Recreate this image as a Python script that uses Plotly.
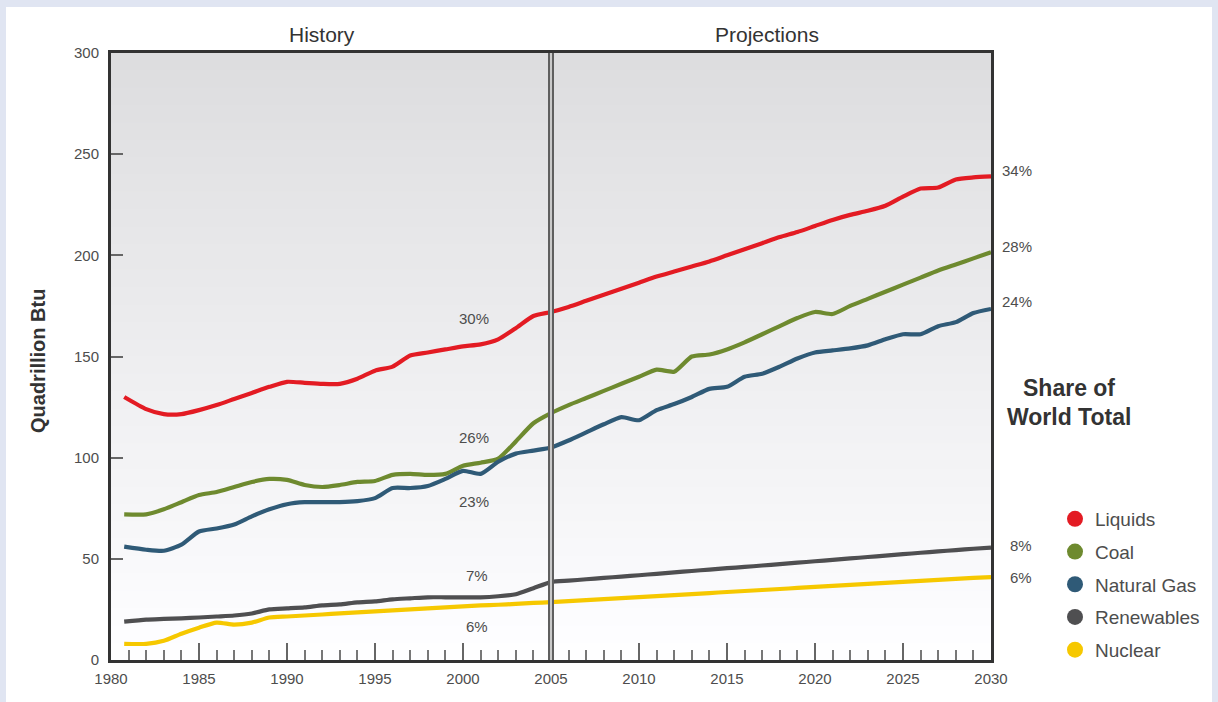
import plotly.graph_objects as go

# ---------------- data ----------------
years = [1980.75, 1982, 1983, 1984, 1985, 1986, 1987, 1988, 1989, 1990,
         1991, 1992, 1993, 1994, 1995, 1996, 1997, 1998, 1999, 2000,
         2001, 2002, 2003, 2004, 2005, 2006, 2007, 2008, 2009, 2010,
         2011, 2012, 2013, 2014, 2015, 2016, 2017, 2018, 2019, 2020,
         2021, 2022, 2023, 2024, 2025, 2026, 2027, 2028, 2029, 2030]

liquids = [130, 124, 121.5, 121.5, 123.5, 126, 129, 132, 135, 137.5,
           137, 136.5, 136.5, 139, 143, 145, 150.5, 152, 153.5, 155,
           156, 158.5, 164, 170, 172, 174.5, 177.5, 180.5, 183.5, 186.5,
           189.5, 192, 194.5, 197, 200, 203, 206, 209, 211.5, 214.5,
           217.5, 220, 222, 224.5, 229, 233, 233.5, 237.5, 238.5, 239]

coal = [72, 72, 74.5, 78, 81.5, 83, 85.5, 88, 89.5, 89,
        86.5, 85.5, 86.5, 88, 88.5, 91.5, 92, 91.5, 92, 96,
        97.5, 99.5, 108, 117, 122, 126, 129.5, 133, 136.5, 140,
        143.5, 142.5, 150, 151, 153.5, 157, 161, 165, 169, 172,
        171, 175, 178.5, 182, 185.5, 189, 192.5, 195.5, 198.5, 201.5]

natural_gas = [56, 54.5, 54, 57, 63.5, 65, 67, 71, 74.5, 77,
               78, 78, 78, 78.5, 80, 85, 85, 86, 89.5, 93.5,
               92, 98, 102, 103.5, 105, 108.5, 112.5, 116.5, 120, 118.5,
               123.5, 126.5, 130, 134, 135, 140, 141.5, 145, 149, 152,
               153, 154, 155.5, 158.5, 161, 161, 165, 167, 171.5, 173.5]

renewables = [19, 20, 20.3, 20.6, 21, 21.5, 22, 23, 25, 25.5,
              26, 27, 27.5, 28.5, 29, 30, 30.5, 31, 31, 31,
              31, 31.5, 32.5, 35.5, 38.5, 39.2, 39.9, 40.6, 41.2, 41.9,
              42.6, 43.3, 44, 44.7, 45.4, 46, 46.7, 47.4, 48.1, 48.8,
              49.5, 50.2, 50.9, 51.6, 52.3, 53, 53.7, 54.3, 55, 55.5]

nuclear = [8, 8, 9.5, 13, 16, 18.5, 17.5, 18.5, 21, 21.5,
           22, 22.5, 23, 23.5, 24, 24.5, 25, 25.5, 26, 26.5,
           27, 27.3, 27.7, 28.2, 28.6, 29.1, 29.6, 30.1, 30.6, 31.1,
           31.6, 32.1, 32.6, 33.1, 33.6, 34.1, 34.6, 35.1, 35.6, 36.1,
           36.6, 37.1, 37.6, 38.1, 38.6, 39.1, 39.6, 40.1, 40.6, 41]

series_names = ["Liquids", "Coal", "Natural Gas", "Renewables", "Nuclear"]
series_values = [liquids, coal, natural_gas, renewables, nuclear]
series_colors = ["#e31b23", "#6e8a2f", "#2f5a77", "#4f4f51", "#f6c800"]

end_shares = ["34%", "28%", "24%", "8%", "6%"]
end_share_y = [242, 204.5, 177, 56.5, 41]
mid_shares = ["30%", "26%", "23%", "7%", "6%"]
mid_share_y = [169, 110, 78.5, 42, 16.5]
mid_share_x = [2000.6, 2000.6, 2000.6, 2000.8, 2000.8]

x_ticks = [1980, 1985, 1990, 1995, 2000, 2005, 2010, 2015, 2020, 2025, 2030]
y_ticks = [0, 50, 100, 150, 200, 250, 300]
split_year = 2005

# ---------------- figure ----------------
FONT = "Liberation Sans, Arial, sans-serif"
TXT = "#4d4d4d"
PAGE = "#e0e5f2"

fig = go.Figure()

for name, vals, col in zip(series_names, series_values, series_colors):
    fig.add_trace(go.Scatter(
        x=years, y=vals, mode="lines", name=name, showlegend=False,
        line=dict(color=col, width=4.2, shape="spline", smoothing=0.6),
        hoverinfo="x+y+name"))

for name, col in zip(series_names, series_colors):
    fig.add_trace(go.Scatter(
        x=[None], y=[None], mode="markers", name=name, legendgroup=name,
        marker=dict(color=col, size=18, symbol="circle")))

shapes = []
# white panel on lavender page
shapes.append(dict(type="rect", xref="paper", yref="paper",
                   x0=-105 / 880, x1=1101 / 880, y0=-45 / 607, y1=653 / 607,
                   fillcolor="white", line=dict(width=0), layer="below"))
# gradient plot background
N = 70
for i in range(N):
    t = i / (N - 1)
    c = int(round(254 - (254 - 221) * t))
    shapes.append(dict(type="rect", xref="x domain", yref="y domain",
                       x0=0, x1=1, y0=i / N, y1=(i + 1) / N + 0.002,
                       fillcolor=f"rgb({c},{c},{min(c + 2, 255)})", line=dict(width=0),
                       layer="below"))
# history / projections divider (double line)
shapes.append(dict(type="line", xref="x", yref="y domain", x0=split_year, x1=split_year,
                   y0=0, y1=1, line=dict(color="#5f5f5f", width=6), layer="above"))
shapes.append(dict(type="line", xref="x", yref="y domain", x0=split_year, x1=split_year,
                   y0=0, y1=1, line=dict(color="#c9c9c9", width=2), layer="above"))

annotations = []
annotations.append(dict(text="History", x=1992, y=(660 - 34) / 607, xref="x", yref="paper",
                        showarrow=False, font=dict(family=FONT, size=21, color="#333"),
                        xanchor="center", yanchor="middle"))
annotations.append(dict(text="Projections", x=2017.3, y=(660 - 34) / 607, xref="x", yref="paper",
                        showarrow=False, font=dict(family=FONT, size=21, color="#333"),
                        xanchor="center", yanchor="middle"))
annotations.append(dict(text="<b>Quadrillion Btu</b>", x=(38 - 111) / 880, y=(660 - 361) / 607,
                        xref="paper", yref="paper", textangle=-90, showarrow=False,
                        font=dict(family=FONT, size=20, color="#333"),
                        xanchor="center", yanchor="middle"))
for txt, yv in zip(end_shares, end_share_y):
    annotations.append(dict(text=txt, x=(1034 - 111) / 880, y=yv, xref="paper", yref="y",
                            showarrow=False, xanchor="right", yanchor="middle",
                            font=dict(family=FONT, size=15, color=TXT)))
for txt, xv, yv in zip(mid_shares, mid_share_x, mid_share_y):
    annotations.append(dict(text=txt, x=xv, y=yv, xref="x", yref="y",
                            showarrow=False, xanchor="center", yanchor="middle",
                            font=dict(family=FONT, size=15, color=TXT)))
annotations.append(dict(text="<b>Share of</b>", x=(1069 - 111) / 880, y=(660 - 388) / 607,
                        xref="paper", yref="paper", showarrow=False,
                        xanchor="center", yanchor="middle",
                        font=dict(family=FONT, size=23, color="#333")))
annotations.append(dict(text="<b>World Total</b>", x=(1069 - 111) / 880, y=(660 - 417) / 607,
                        xref="paper", yref="paper", showarrow=False,
                        xanchor="center", yanchor="middle",
                        font=dict(family=FONT, size=23, color="#333")))

fig.update_layout(
    width=1218, height=702,
    margin=dict(l=111, r=227, t=53, b=42, autoexpand=False),
    paper_bgcolor=PAGE,
    plot_bgcolor="white",
    shapes=shapes,
    annotations=annotations,
    showlegend=True,
    legend=dict(x=(1055 - 111) / 880, y=(660 - 500) / 607, xanchor="left", yanchor="top",
                bgcolor="rgba(0,0,0,0)", font=dict(family=FONT, size=19, color=TXT),
                itemsizing="trace", tracegroupgap=5, traceorder="grouped"),
    hovermode="closest",
)

fig.update_xaxes(
    range=[1980, 2030], tickvals=x_ticks, ticktext=[str(v) for v in x_ticks],
    ticks="inside", ticklen=17, tickwidth=2, tickcolor="#666",
    minor=dict(dtick=1, tick0=1980, ticks="inside", ticklen=10, tickwidth=1.5, tickcolor="#777"),
    showline=True, linewidth=3, linecolor="#333", mirror=True,
    showgrid=False, zeroline=False, automargin=False,
    tickfont=dict(family=FONT, size=15, color=TXT), ticklabelstandoff=3,
)
fig.update_yaxes(
    range=[0, 300], tickvals=y_ticks, ticks="inside", ticklen=12, tickwidth=2, tickcolor="#666",
    showline=True, linewidth=3, linecolor="#333", mirror=True,
    showgrid=False, zeroline=False, automargin=False,
    tickfont=dict(family=FONT, size=15, color=TXT), ticklabelstandoff=6,
)

fig.write_html(
    "out.html",
    config={"displayModeBar": False},
    post_script="document.body.style.margin='0';document.body.style.background='%s';" % PAGE,
)
